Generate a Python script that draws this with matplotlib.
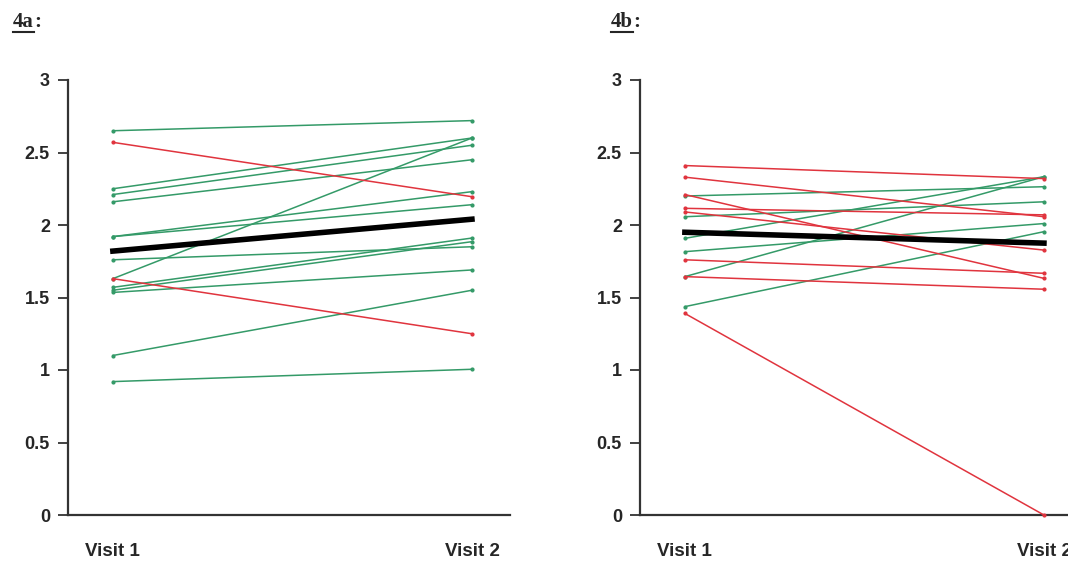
import matplotlib
matplotlib.use("Agg")
import matplotlib.pyplot as plt
from matplotlib.lines import Line2D

# ---------------- data ----------------
visits = ["Visit 1", "Visit 2"]
yticks = [0, 0.5, 1, 1.5, 2, 2.5, 3]
ytick_labels = ["0", "0.5", "1", "1.5", "2", "2.5", "3"]

# Panel 4a: improved (green) and worsened (red) subjects, (visit1, visit2)
a_green_v1 = [2.65, 2.25, 2.21, 2.16, 1.63, 1.92, 1.92, 1.76, 1.57, 1.55, 1.535, 1.10, 0.92]
a_green_v2 = [2.72, 2.60, 2.55, 2.45, 2.60, 2.23, 2.14, 1.85, 1.91, 1.885, 1.69, 1.55, 1.005]
a_red_v1 = [2.57, 1.63]
a_red_v2 = [2.195, 1.25]
a_mean = [1.82, 2.04]

# Panel 4b
b_green_v1 = [2.20, 2.057, 1.908, 1.816, 1.644, 1.437]
b_green_v2 = [2.264, 2.16, 2.333, 2.01, 2.333, 1.954]
b_red_v1 = [2.41, 2.33, 2.21, 2.115, 2.09, 1.76, 1.644, 1.39]
b_red_v2 = [2.32, 2.057, 1.632, 2.07, 1.827, 1.667, 1.557, 0.0]
b_mean = [1.95, 1.875]

titles = ["4a", "4b"]

GREEN = "#349a68"
RED = "#e0343e"
AXC = "#333333"
TXT = "#262626"

W, H = 1068, 563
fig = plt.figure(figsize=(W / 100, H / 100), dpi=100)

def make_axes(left_px):
    bottom_px, top_px, width_px = 515, 80, 442
    return fig.add_axes([left_px / W, (H - bottom_px) / H, width_px / W,
                         (bottom_px - top_px) / H])

ax_a = make_axes(68)
ax_b = make_axes(640)

panels = [
    (ax_a, a_green_v1, a_green_v2, a_red_v1, a_red_v2, a_mean),
    (ax_b, b_green_v1, b_green_v2, b_red_v1, b_red_v2, b_mean),
]

xpos = [1, 2]
for ax, gv1, gv2, rv1, rv2, mean in panels:
    for y1, y2 in zip(gv1, gv2):
        ax.plot(xpos, [y1, y2], color=GREEN, lw=1.1, marker="o", ms=2.0,
                clip_on=False, zorder=2)
    for y1, y2 in zip(rv1, rv2):
        ax.plot(xpos, [y1, y2], color=RED, lw=1.1, marker="o", ms=2.0,
                clip_on=False, zorder=3)
    ax.plot(xpos, mean, color="black", lw=4.0, solid_capstyle="projecting",
            clip_on=False, zorder=4)

    ax.set_ylim(0, 3)
    ax.set_xlim(0.875, 2.106)
    ax.set_yticks(yticks)
    ax.set_yticklabels(ytick_labels)
    ax.set_xticks(xpos)
    ax.set_xticklabels(visits)
    for s in ["top", "right"]:
        ax.spines[s].set_visible(False)
    for s in ["left", "bottom"]:
        ax.spines[s].set_color(AXC)
        ax.spines[s].set_linewidth(1.6)
    ax.tick_params(axis="y", direction="out", length=7, width=1.3, color=AXC,
                   pad=6, labelsize=13, labelcolor=TXT)
    ax.tick_params(axis="x", length=0, pad=20, labelsize=13.5, labelcolor=TXT)
    for lab in ax.get_yticklabels() + ax.get_xticklabels():
        lab.set_fontfamily("Liberation Sans")
        lab.set_fontweight("bold")

# Titles "4a:" and "4b:" with underline under the panel id
fig.canvas.draw()
renderer = fig.canvas.get_renderer()
for x_px, t in zip([13, 611], titles):
    txt = fig.text(x_px / W, 1 - 27 / H, t, fontsize=15, fontweight="bold",
                   family="Liberation Serif", color=TXT, va="baseline")
    bb = txt.get_window_extent(renderer)
    fig.text(bb.x1 / W, 1 - 27 / H, ":", fontsize=15, fontweight="bold",
             family="Liberation Serif", color=TXT, va="baseline")
    yline = (H - 32) / H
    fig.add_artist(Line2D([bb.x0 / W, bb.x1 / W], [yline, yline],
                          color=TXT, lw=1.5, transform=fig.transFigure))

fig.savefig("out.png", dpi=100)
